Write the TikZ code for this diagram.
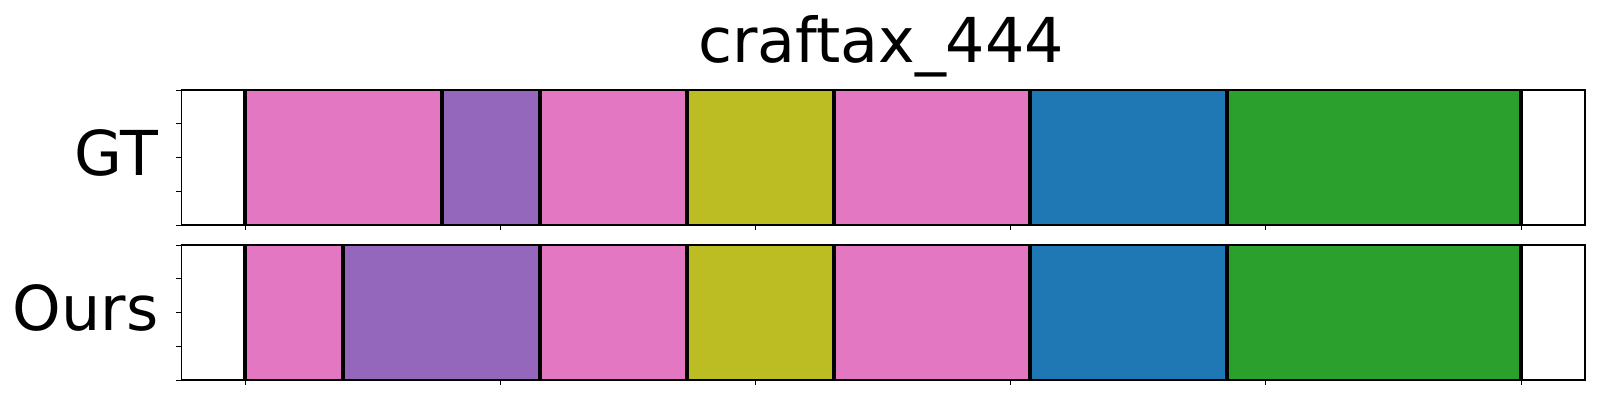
\documentclass[tikz,border=0pt]{standalone}
\usepackage{fontspec}
\setmainfont{DejaVu Sans}
\usepackage{xcolor}
\usetikzlibrary{positioning}
\definecolor{tabpink}{HTML}{E377C2}
\definecolor{tabpurple}{HTML}{9467BD}
\definecolor{tabolive}{HTML}{BCBD22}
\definecolor{tabblue}{HTML}{1F77B4}
\definecolor{tabgreen}{HTML}{2CA02C}
\tikzset{
  bound/.style={line width=0.04cm},
  frame/.style={line width=0.012cm},
  tick/.style={line width=0.01cm},
  lbl/.style={font=\fontsize{17.6}{21}\selectfont, inner sep=0pt}
}

\begin{document}
\begin{tikzpicture}[x=0.01cm,y=-0.01cm]
    \useasboundingbox (0,0) rectangle (1600,400);

    % title
    \node[lbl, anchor=base] (title) at (881,62) {craftax\_444};

    % GT
    \foreach \a/\b/\c in {245/441.7/tabpink, 441.7/540/tabpurple, 540/686.7/tabpink,
        686.7/833.7/tabolive, 833.7/1029.7/tabpink, 1029.7/1226.7/tabblue, 1226.7/1520.7/tabgreen}
        \fill[\c] (\a,90) rectangle (\b,225);
    \foreach \x in {245,441.7,540,686.7,833.7,1029.7,1226.7,1520.7}
        \draw[bound] (\x,90) -- (\x,225);
    \draw[frame] (181.5,90) rectangle (1585,225);
    \node[lbl, anchor=base east] (gt) at (159,175) {GT};

    % Ours
    \foreach \a/\b/\c in {245/342.7/tabpink, 342.7/540/tabpurple, 540/686.7/tabpink,
        686.7/833.7/tabolive, 833.7/1029.7/tabpink, 1029.7/1226.7/tabblue, 1226.7/1520.7/tabgreen}
        \fill[\c] (\a,245) rectangle (\b,380);
    \foreach \x in {245,342.7,540,686.7,833.7,1029.7,1226.7,1520.7}
        \draw[bound] (\x,245) -- (\x,380);
    \draw[frame] (181.5,245) rectangle (1585,380);
    \node[lbl, anchor=base east] (ours) at (159,330) {Ours};

    % ticks
    \foreach \t in {90,245} {
        \foreach \k in {0,...,4}
            \draw[tick] (181.5,\t+33.75*\k) -- ++(-6,0);
        \foreach \k in {0,...,5}
            \draw[tick] (245+255.2*\k,\t+135) -- ++(0,5);
    }
\end{tikzpicture}
\end{document}
